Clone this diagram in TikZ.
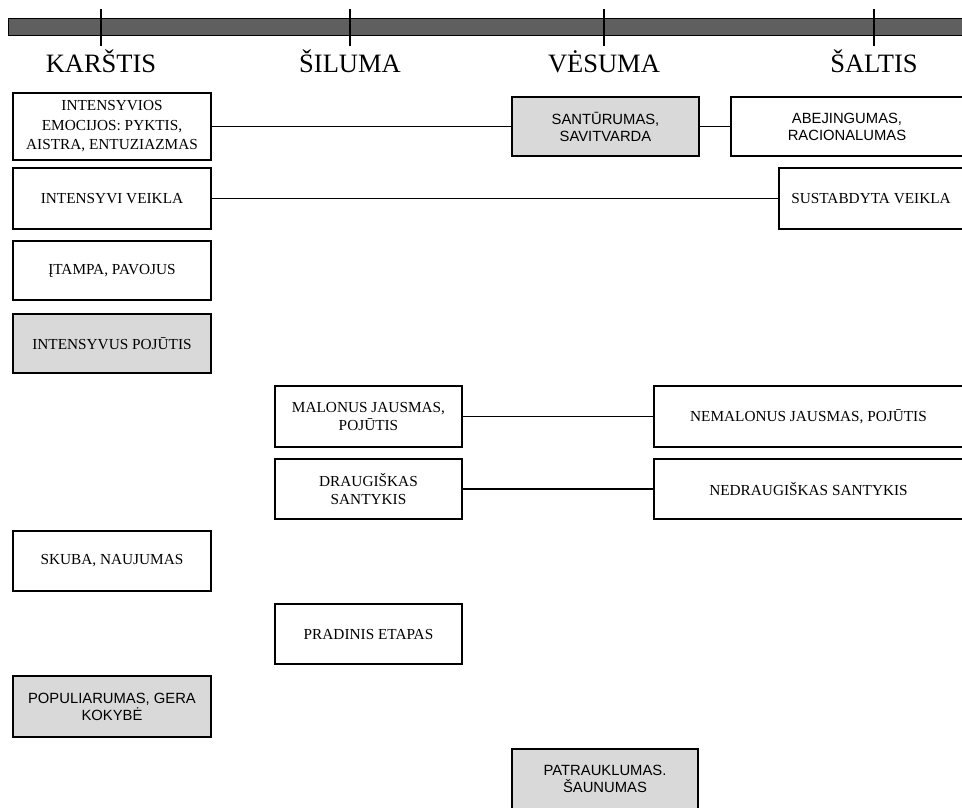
\documentclass[tikz,border=0pt]{standalone}
\usepackage{fontspec}
\setmainfont{Liberation Serif}
\newfontfamily\boxsans{Liberation Sans}
\definecolor{boxgray}{HTML}{D9D9D9}
\definecolor{bargray}{HTML}{5F5F5F}
\begin{document}
\begin{tikzpicture}[x=1pt,y=-1pt,
  box/.style={draw, line width=1.3pt, fill=white, rectangle, inner sep=0pt,
    align=center, font=\fontsize{15.3}{17.5}\selectfont},
  sansbox/.style={box, font=\boxsans\fontsize{14.8}{17}\selectfont},
  greybox/.style={fill=boxgray},
  link/.style={line width=1.4pt},
  tick/.style={line width=1.7pt},
  scalelabel/.style={anchor=base, font=\fontsize{26.5}{30}\selectfont}]
\useasboundingbox (0,0) rectangle (962,807);
\clip (0,0) rectangle (962,807);

% temperature scale
\fill[bargray, draw=black, line width=1pt] (8,18) rectangle (975,35);
\foreach \n/\x/\t in {hot/101/KARŠTIS, warm/350/ŠILUMA, cool/604/VĖSUMA, cold/874/ŠALTIS}{
  \coordinate (\n top) at (\x,9);
  \coordinate (\n bot) at (\x,46);
  \draw[tick] (\n top) -- (\n bot);
  \node[scalelabel] (\n label) at (\x,72) {\t};
}

% hot column
\node[box, minimum width=198pt, minimum height=67pt, font=\fontsize{15.3}{19.5}\selectfont] (emotions) at (112,126.5)
  {INTENSYVIOS\\EMOCIJOS: PYKTIS,\\AISTRA, ENTUZIAZMAS};
\node[box, minimum width=198pt, minimum height=61pt] (activity) at (112,198.5) {INTENSYVI VEIKLA};
\node[box, minimum width=198pt, minimum height=59pt] (tension) at (112,270.5) {ĮTAMPA, PAVOJUS};
\node[box, greybox, minimum width=198pt, minimum height=59pt] (sensation) at (112,343.5) {INTENSYVUS POJŪTIS};
\node[box, minimum width=198pt, minimum height=60pt] (haste) at (112,561) {SKUBA, NAUJUMAS};
\node[sansbox, greybox, minimum width=198pt, minimum height=61pt] (popular) at (112,706.5) {POPULIARUMAS, GERA\\KOKYBĖ};

% warm column
\node[box, minimum width=187pt, minimum height=61pt] (pleasant) at (368.5,416.5) {MALONUS JAUSMAS,\\POJŪTIS};
\node[box, minimum width=187pt, minimum height=60pt] (friendly) at (368.5,489) {DRAUGIŠKAS\\SANTYKIS};
\node[box, minimum width=187pt, minimum height=60pt] (initial) at (368.5,634) {PRADINIS ETAPAS};

% cool column
\node[sansbox, greybox, minimum width=187pt, minimum height=59pt] (restraint) at (605.5,126.5) {SANTŪRUMAS,\\SAVITVARDA};
\node[sansbox, greybox, minimum width=186pt, minimum height=60pt] (attractive) at (605,779) {PATRAUKLUMAS.\\ŠAUNUMAS};

% cold column
\node[sansbox, minimum width=232pt, minimum height=59pt] (indifference) at (847,126.5) {ABEJINGUMAS,\\RACIONALUMAS};
\node[box, minimum width=184pt, minimum height=61pt] (stopped) at (871,198.5) {SUSTABDYTA VEIKLA};
\node[box, minimum width=309pt, minimum height=61pt] (unpleasant) at (808.5,416.5) {NEMALONUS JAUSMAS, POJŪTIS};
\node[box, minimum width=309pt, minimum height=60pt] (unfriendly) at (808.5,489) {NEDRAUGIŠKAS SANTYKIS};

% connectors
\draw[link] (emotions) -- (restraint);
\draw[link] (restraint) -- (indifference);
\draw[link] (activity) -- (stopped);
\draw[link] (pleasant) -- (unpleasant);
\draw[link] (friendly) -- (unfriendly);
\end{tikzpicture}
\end{document}
